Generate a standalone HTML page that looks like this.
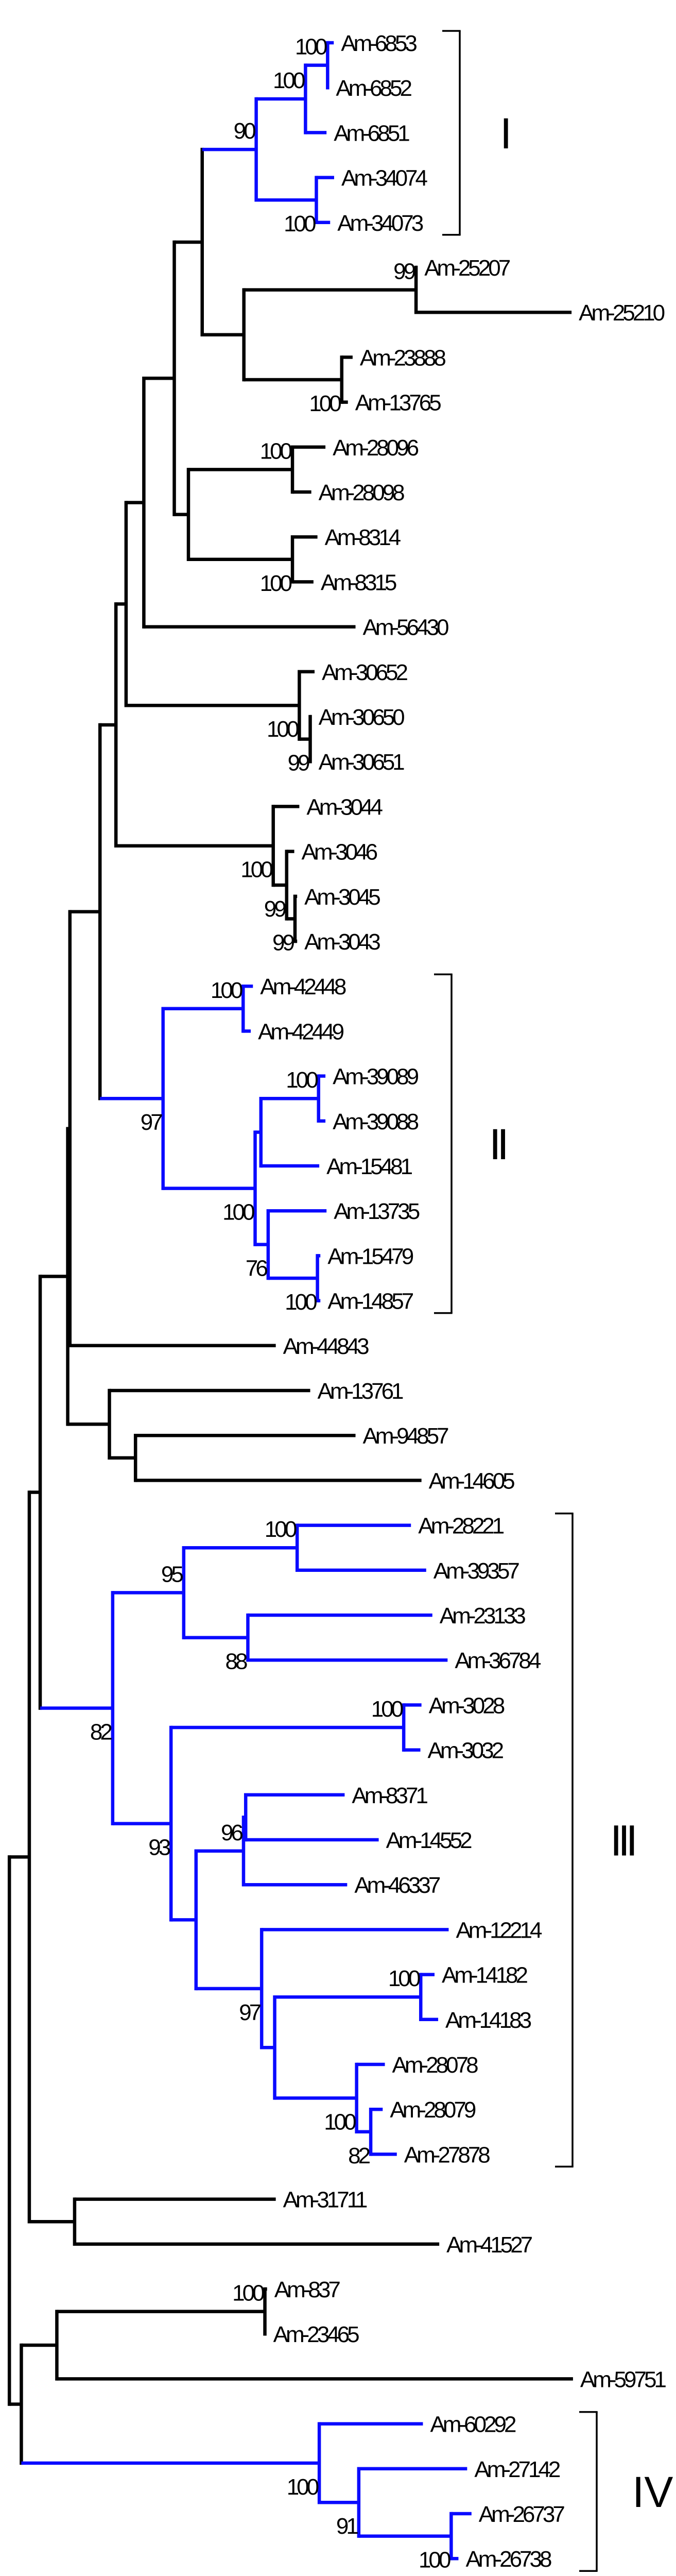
<!DOCTYPE html>
<html><head><meta charset="utf-8"><style>
html,body{margin:0;padding:0;background:#fff;width:1313px;height:5170px;overflow:hidden;}
svg{display:block;position:absolute;left:0;top:0;}
text{font-family:"Liberation Sans",Arial,sans-serif;fill:#000;}
</style></head><body>
<svg id="tree" width="1313" height="5170" viewBox="0 0 1313 5170" xmlns="http://www.w3.org/2000/svg"></svg>
<script>
// ---- data: tree topology, cumulative branch depths (substitutions/site), bootstrap support ----
const cladeNames = ["I","II","III","IV"];
const cladeLeafRanges = [[0,4],[21,28],[33,47],[53,56]];
const scaleBarValue = 0.2;
const tree =
{d:0,c:[
 {d:0.055,c:[
  {d:0.085,c:[
   {d:0.161,c:[
    {d:0.167,c:[
     {d:0.250,c:[
      {d:0.294,c:[
       {d:0.322,c:[
        {d:0.371,c:[
         {d:0.455,c:[
          {d:0.532,c:[
           {d:0.681,b:90,p:"u",clade:1,c:[
            {d:0.817,b:100,p:"u",c:[
             {d:0.878,b:100,p:"u",c:[{n:"Am-6853",d:0.895},{n:"Am-6852",d:0.881}]},
             {n:"Am-6851",d:0.875}]},
            {d:0.847,b:100,p:"d",c:[{n:"Am-34074",d:0.896},{n:"Am-34073",d:0.885}]}]},
           {d:0.647,c:[
            {d:1.122,b:99,p:"u",c:[{n:"Am-25207",d:1.125},{n:"Am-25210",d:1.551}]},
            {d:0.917,b:100,p:"d",c:[{n:"Am-23888",d:0.947},{n:"Am-13765",d:0.934}]}]}]},
          {d:0.494,c:[
           {d:0.781,b:100,p:"u",c:[{n:"Am-28096",d:0.872},{n:"Am-28098",d:0.833}]},
           {d:0.781,b:100,p:"d",c:[{n:"Am-8314",d:0.850},{n:"Am-8315",d:0.839}]}]}]},
         {n:"Am-56430",d:0.955}]},
        {d:0.800,b:100,p:"d",c:[{n:"Am-30652",d:0.842},
          {d:0.830,b:99,p:"d",c:[{n:"Am-30650",d:0.833},{n:"Am-30651",d:0.833}]}]}]},
       {d:0.728,b:100,p:"d",c:[{n:"Am-3044",d:0.800},
         {d:0.765,b:99,p:"d",c:[{n:"Am-3046",d:0.786},
           {d:0.788,b:99,p:"d",c:[{n:"Am-3045",d:0.794},{n:"Am-3043",d:0.794}]}]}]}]},
      {d:0.424,b:97,p:"d",clade:1,c:[
       {d:0.645,b:100,p:"u",c:[{n:"Am-42448",d:0.672},{n:"Am-42449",d:0.666}]},
       {d:0.678,b:100,p:"d",c:[
        {d:0.694,c:[
         {d:0.853,b:100,p:"u",c:[{n:"Am-39089",d:0.872},{n:"Am-39088",d:0.872}]},
         {n:"Am-15481",d:0.855}]},
        {d:0.714,b:76,p:"d",c:[{n:"Am-13735",d:0.875},
          {d:0.850,b:100,p:"d",c:[{n:"Am-15479",d:0.858},{n:"Am-14857",d:0.858}]}]}]}]}]},
     {n:"Am-44843",d:0.735}]},
    {d:0.276,c:[{n:"Am-13761",d:0.830},
      {d:0.348,c:[{n:"Am-94857",d:0.955},{n:"Am-14605",d:1.137}]}]}]},
   {d:0.285,b:82,p:"d",clade:1,c:[
    {d:0.481,b:95,p:"u",c:[
     {d:0.794,b:100,p:"u",c:[{n:"Am-28221",d:1.108},{n:"Am-39357",d:1.150}]},
     {d:0.658,b:88,p:"d",c:[{n:"Am-23133",d:1.167},{n:"Am-36784",d:1.209}]}]},
    {d:0.446,b:93,p:"d",c:[
     {d:1.088,b:100,p:"u",c:[{n:"Am-3028",d:1.137},{n:"Am-3032",d:1.134}]},
     {d:0.515,c:[
      {d:0.646,b:96,p:"u",c:[
       {d:0.652,c:[{n:"Am-8371",d:0.925},{n:"Am-14552",d:1.019}]},
       {n:"Am-46337",d:0.932}]},
      {d:0.696,b:97,p:"d",c:[{n:"Am-12214",d:1.212},
        {d:0.732,c:[
         {d:1.135,b:100,p:"u",c:[{n:"Am-14182",d:1.173},{n:"Am-14183",d:1.183}]},
         {d:0.958,b:100,p:"d",c:[{n:"Am-28078",d:1.036},
           {d:0.997,b:82,p:"d",c:[{n:"Am-28079",d:1.030},{n:"Am-27878",d:1.069}]}]}]}]}]}]}]}]},
  {d:0.180,c:[{n:"Am-31711",d:0.735},{n:"Am-41527",d:1.186}]}]},
 {d:0.033,c:[
  {d:0.131,c:[
   {d:0.705,b:100,p:"u",c:[{n:"Am-837",d:0.711},{n:"Am-23465",d:0.708}]},
   {n:"Am-59751",d:1.555}]},
  {d:0.855,b:100,p:"d",clade:1,c:[{n:"Am-60292",d:1.141},
    {d:0.964,b:91,p:"d",c:[{n:"Am-27142",d:1.263},
      {d:1.219,b:100,p:"d",c:[{n:"Am-26737",d:1.275},{n:"Am-26738",d:1.239}]}]}]}]}]};

// ---- layout ----
const X0=18.2, PXU=704, Y0=83, DY=87.2;
const xs = d => X0 + d*PXU;
const yLeaf = i => Y0 + i*DY;
const BLUE="#0a0aff", BLACK="#000", LW=6.5;
const bracketX=[893,877,1112,1159], labelX=[971,950,1185,1228];
const svg=document.getElementById('tree');
const NS="http://www.w3.org/2000/svg";
let leafIdx=0;
function layout(n,col){
  n.col = n.clade ? BLUE : col;
  if(!n.c){ n.y=yLeaf(leafIdx); n.i=leafIdx; leafIdx++; return; }
  n.c.forEach(k=>layout(k,n.col));
  n.y=(n.c[0].y+n.c[n.c.length-1].y)/2;
}
layout(tree,BLACK);
function line(x1,y1,x2,y2,col,w,name){
  const l=document.createElementNS(NS,'line');
  l.setAttribute('x1',x1);l.setAttribute('y1',y1);l.setAttribute('x2',x2);l.setAttribute('y2',y2);
  l.setAttribute('stroke',col);l.setAttribute('stroke-width',w);
  
  
  svg.appendChild(l);
}
function txt(x,y,s,size,anchor,ls,name){
  const t=document.createElementNS(NS,'text');
  t.setAttribute('x',x);t.setAttribute('y',y);t.setAttribute('font-size',size);
  t.setAttribute('text-anchor',anchor);t.setAttribute('letter-spacing',ls);
  t.textContent=s;
  
  
  svg.appendChild(t);
}
function draw(n){
  if(!n.c){
    txt(xs(n.d)+14, n.y+16, n.n, 44, 'start', -5, 'leaf-label');
    return;
  }
  const x=xs(n.d), a=n.c[0], z=n.c[n.c.length-1];
  line(x,a.y-LW/2,x,z.y+LW/2,n.col,LW,'node-vertical');
  n.c.forEach(k=>{ line(x,k.y,xs(k.d),k.y,k.col,LW,'branch'); draw(k); });
  if(n.b!==undefined){
    const cy = n.p==='u' ? n.y-37 : n.y+45;
    txt(x-5, cy+16, String(n.b), 44, 'end', -5, 'bootstrap-value');
  }
}
draw(tree);
// clade brackets
cladeNames.forEach((nm,k)=>{
  const top=yLeaf(cladeLeafRanges[k][0])-23, bot=yLeaf(cladeLeafRanges[k][1])+24, bx=bracketX[k];
  line(bx,top,bx,bot,BLACK,3.5,'clade-bracket');
  line(bx-34,top,bx+1.7,top,BLACK,3.5,'clade-bracket-top');
  line(bx-34,bot,bx+1.7,bot,BLACK,3.5,'clade-bracket-bottom');
  txt(labelX[k], (top+bot)/2+30, nm, 84, 'start', nm.length>1&&nm!=="IV"?-8:0, 'clade-label');
});
// scale bar
const sb0=147, sb1=sb0+scaleBarValue*PXU, sby=5100;
line(sb0,sby,sb1,sby,BLACK,6,'scale-bar');
line(sb0,sby-15,sb0,sby+15,BLACK,6,'scale-bar-tick');
line(sb1,sby-15,sb1,sby+15,BLACK,6,'scale-bar-tick');
txt((sb0+sb1)/2, 5151, String(scaleBarValue), 34, 'middle', -2, 'scale-bar-label');
</script>
</body></html>
